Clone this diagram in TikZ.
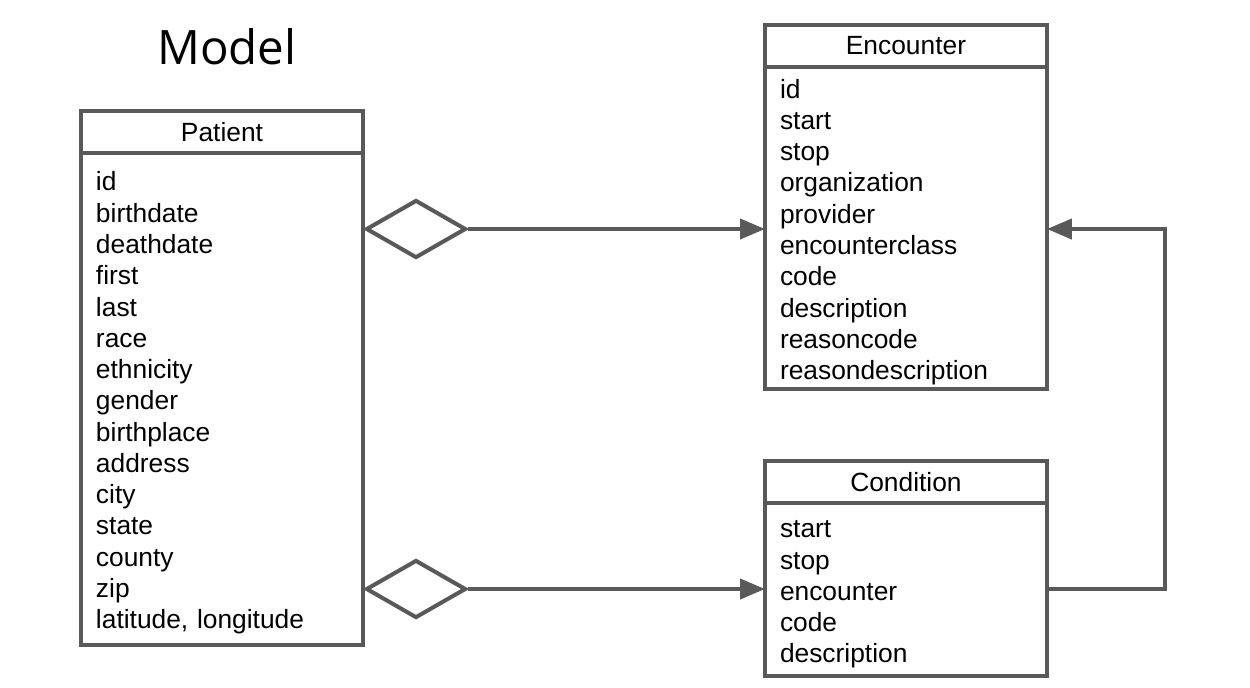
\documentclass[tikz,border=0pt]{standalone}
\usepackage{fontspec}
\setmainfont{Liberation Sans}
\newfontfamily\titlefont{Open Sans}
\usetikzlibrary{positioning, arrows.meta, shapes.geometric}
\definecolor{linegray}{HTML}{595959}

\begin{document}
\begin{tikzpicture}[x=0.02cm, y=-0.02cm,
    classhead/.style={draw=linegray, line width=2.3pt, outer sep=0pt, minimum width=5.64cm, minimum height=0.84cm, inner sep=0pt, font=\fontsize{15}{17.8}\selectfont},
    classbody/.style={draw=linegray, line width=2.3pt, outer sep=0pt, text width=5.04cm, inner xsep=0.3cm, inner ysep=0pt, align=left, font=\fontsize{15}{17.8}\selectfont, execute at begin node={\rule{0pt}{15.5pt}}},
    aggr/.style={draw=linegray, line width=2.3pt, diamond, inner sep=0pt, minimum width=2cm, minimum height=1.16cm},
    link/.style={draw=linegray, line width=2.3pt, -{Triangle[length=0.5cm, width=0.4cm]}}]
    \useasboundingbox (0,0) rectangle (1250,687);
    \node[font=\titlefont\fontsize{27}{32}\selectfont] (title) at (227,47) {Model};
    % Patient
    \node[classhead, anchor=north west] (phead) at (81,111) {Patient};
    \node[classbody, below=0pt of phead, minimum height=9.84cm] (pbody) {id\\ birthdate\\ deathdate\\ first\\ last\\ race\\ ethnicity\\ gender\\ birthplace\\ address\\ city\\ state\\ county\\ zip\\ latitude, longitude};
    % Encounter
    \node[classhead, anchor=north west] (ehead) at (765,25) {Encounter};
    \node[classbody, below=0pt of ehead, minimum height=6.44cm] (ebody) {id\\ start\\ stop\\ organization\\ provider\\ encounterclass\\ code\\ description\\ reasoncode\\ reasondescription};
    % Condition
    \node[classhead, anchor=north west] (chead) at (765,461) {Condition};
    \node[classbody, below=0pt of chead, minimum height=3.46cm] (cbody) {start\\ stop\\ encounter\\ code\\ description};
    % aggregations
    \node[aggr] (agg1) at (416,229) {};
    \node[aggr] (agg2) at (416,589) {};
    \draw[link] (agg1.east) -- (agg1.east -| ebody.west);
    \draw[link] (agg2.east) -- (agg2.east -| cbody.west);
    \coordinate (turn) at (1165,589);
    \draw[link] (agg2.east -| cbody.east) -- (turn) |- (agg1.east -| ebody.east);
\end{tikzpicture}
\end{document}
